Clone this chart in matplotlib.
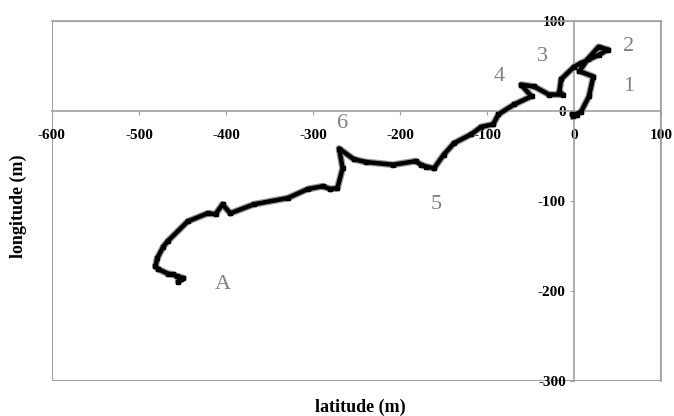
import matplotlib
matplotlib.use("Agg")
import matplotlib.pyplot as plt
from matplotlib.patches import Rectangle

plt.rcParams['font.family'] = ['Liberation Serif', 'DejaVu Serif']
plt.rcParams['axes.unicode_minus'] = False

# track (start near origin, end at A)
lat = [-1, 3, -2, 2, 8, 17, 22, 6, 16, 28, 39, 28, 8, 0, -15, -17, -13, -29,
       -46, -61, -49, -69, -87, -93, -107, -118, -138, -150, -161, -170, -176,
       -182, -208, -239, -253, -270, -266, -272, -280, -289, -306, -329, -368,
       -395, -404, -412, -421, -444, -467, -472, -479, -481, -478, -467, -461,
       -456, -449, -455, -452]
lon = [-6, -5, -4, -4, -1, 16, 38, 44, 58, 71, 68, 62, 53, 49, 35, 21, 18, 18,
       27, 29, 16, 7, -4, -15, -18, -26, -36, -49, -64, -62, -60,
       -56, -60, -57, -54, -42, -64, -86, -87, -84, -87, -97, -104,
       -114, -104, -115, -114, -123, -145, -151, -164, -173, -176, -181, -182,
       -184, -186, -190, -187]

marks = ['1', '2', '3', '4', '5', '6', 'A']
mark_x = [63, 63, -37, -86, -158, -266, -404]
mark_y = [27, 71, 60, 38, -104, -14, -193]

fig = plt.figure(figsize=(6.74, 4.16), dpi=100)
ax = fig.add_axes([0.077, 0.085, 0.904, 0.865])

ax.plot(lat, lon, color='#9a9a9a', lw=5, solid_joinstyle='round', zorder=2)
ax.plot(lat, lon, color='black', lw=3.2, marker='s', ms=3.5, solid_joinstyle='round', zorder=3)

for t, x, y in zip(marks, mark_x, mark_y):
    ax.text(x, y, t, color='#808080', fontsize=16, ha='center', va='center')

ax.set_xlim(-600, 100)
ax.set_ylim(-300, 100)
ax.set_xticks(range(-600, 101, 100))
ax.set_yticks(range(-300, 101, 100))

grey = '#a0a0a0'
ax.spines['left'].set_position(('data', 0))
ax.spines['bottom'].set_position(('data', 0))
for s in ax.spines.values():
    s.set_color(grey)
    s.set_linewidth(1.2)
ax.add_patch(Rectangle((0, 0), 1, 1, transform=ax.transAxes, fill=False,
                       edgecolor=grey, lw=1.5, zorder=1))

ax.tick_params(axis='x', direction='out', length=3, color=grey, pad=10,
               labelsize=11)
ax.tick_params(axis='y', direction='out', length=3, color=grey, pad=3,
               labelsize=11)
for lb in ax.get_xticklabels() + ax.get_yticklabels():
    lb.set_fontweight('bold')

fig.text(0.535, 0.02, 'latitude (m)', fontsize=13, fontweight='bold',
         ha='center', va='center')
fig.text(0.027, 0.505, 'longitude (m)', fontsize=13, fontweight='bold',
         ha='center', va='center', rotation=90)

fig.savefig('out.png', dpi=100)
